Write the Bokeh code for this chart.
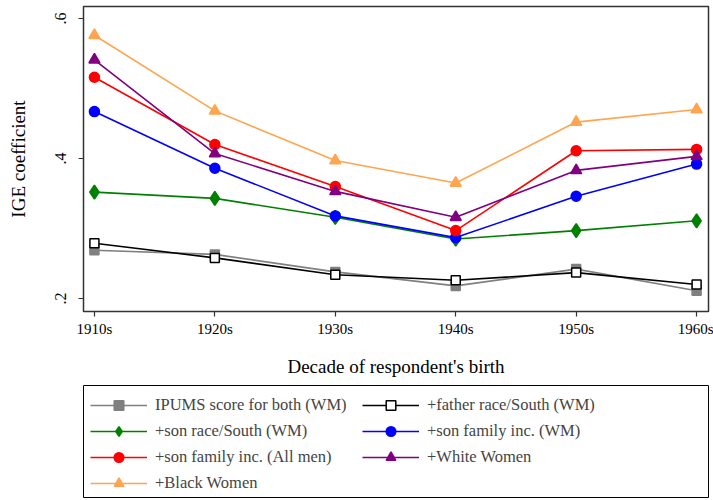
from bokeh.plotting import figure
from bokeh.models import Range1d, FixedTicker, Legend, LegendItem
from bokeh.layouts import column
from bokeh.embed import file_html
from bokeh.resources import INLINE

decades = ["1910s", "1920s", "1930s", "1940s", "1950s", "1960s"]
ipums = [0.269, 0.263, 0.238, 0.218, 0.242, 0.211]
father_race = [0.279, 0.258, 0.234, 0.226, 0.237, 0.220]
son_race = [0.352, 0.343, 0.316, 0.285, 0.297, 0.311]
son_inc_wm = [0.467, 0.386, 0.318, 0.287, 0.346, 0.392]
son_inc_all = [0.516, 0.420, 0.360, 0.297, 0.411, 0.413]
white_women = [0.541, 0.407, 0.353, 0.316, 0.383, 0.403]
black_women = [0.576, 0.468, 0.397, 0.365, 0.452, 0.470]
y_ticks = [0.2, 0.4, 0.6]
y_tick_labels = [".2", ".4", ".6"]

labels = ["IPUMS score for both (WM)", "+father race/South (WM)",
          "+son race/South (WM)", "+son family inc. (WM)",
          "+son family inc. (All men)", "+White Women", "+Black Women"]
values = [ipums, father_race, son_race, son_inc_wm, son_inc_all, white_women, black_women]
styles = [
    dict(color="#808080", marker="square", size=9, fill="#808080"),
    dict(color="#000000", marker="square", size=9, fill="#ffffff"),
    dict(color="#008000", marker="diamond", size=14, fill="#008000"),
    dict(color="#0000ff", marker="circle", size=10, fill="#0000ff"),
    dict(color="#ff0000", marker="circle", size=10, fill="#ff0000"),
    dict(color="#800080", marker="triangle", size=11, fill="#800080"),
    dict(color="#ffa54f", marker="triangle", size=11, fill="#ffa54f"),
]

FONT = "Liberation Serif"
xs = list(range(len(decades)))

p = figure(width=713, height=380, x_range=Range1d(-0.0906, 5.0988),
           y_range=Range1d(0.18143, 0.6171), output_backend="svg",
           toolbar_location=None, min_border_left=78, min_border_right=5,
           min_border_top=6, min_border_bottom=69)
p.xgrid.visible = False
p.ygrid.visible = False
p.outline_line_color = "#333333"
p.outline_line_width = 1.5

for vals, st in zip(values, styles):
    p.line(xs, vals, line_color=st["color"], line_width=1.6)
    p.scatter(xs, vals, marker=st["marker"], size=st["size"],
              line_color=st["color"], fill_color=st["fill"], line_width=1.5)

p.xaxis.ticker = FixedTicker(ticks=xs)
p.xaxis.major_label_overrides = {i: d for i, d in zip(xs, decades)}
p.yaxis.ticker = FixedTicker(ticks=y_ticks)
p.yaxis.major_label_overrides = {t: l for t, l in zip(y_ticks, y_tick_labels)}
p.yaxis.major_label_orientation = "vertical"
for ax in (p.xaxis[0], p.yaxis[0]):
    ax.axis_line_color = None
    ax.major_tick_out = 5
    ax.major_tick_in = 0
    ax.minor_tick_line_color = None
    ax.major_tick_line_color = "#333333"
    ax.major_tick_line_width = 1.2
    ax.major_label_text_font = FONT
    ax.major_label_text_color = "#000000"
    ax.axis_label_text_font = FONT
    ax.axis_label_text_font_size = "19px"
    ax.axis_label_text_font_style = "normal"
    ax.axis_label_text_color = "#000000"
p.xaxis.major_label_text_font_size = "15px"
p.yaxis.major_label_text_font_size = "16px"
p.xaxis.axis_label = "Decade of respondent's birth"
p.yaxis.axis_label = "IGE coefficient"
p.xaxis.major_label_standoff = 4
p.xaxis.axis_label_standoff = 16
p.yaxis.major_label_standoff = 12
p.yaxis.axis_label_standoff = 24

# legend panel (its frame outline is the legend box)
p2 = figure(width=713, height=120, x_range=Range1d(100, 101), y_range=Range1d(100, 101),
            output_backend="svg", toolbar_location=None, x_axis_type=None,
            y_axis_type=None, min_border_left=83, min_border_right=5,
            min_border_top=5, min_border_bottom=3)
p2.xgrid.visible = False
p2.ygrid.visible = False
p2.outline_line_color = "#000000"
p2.outline_line_width = 1

items = []
for lab, vals, st in zip(labels, values, styles):
    rl = p2.line(xs, vals, line_color=st["color"], line_width=1.6)
    rs = p2.scatter(xs, vals, marker=st["marker"], size=st["size"],
                    line_color=st["color"], fill_color=st["fill"], line_width=1.5)
    items.append(LegendItem(label=lab, renderers=[rl, rs]))

def make_legend(its, loc):
    return Legend(items=its, location=loc, padding=0, margin=0, spacing=2,
                  glyph_width=57, glyph_height=24, label_height=20, label_standoff=8,
                  label_text_font=FONT, label_text_font_size="16.5px",
                  border_line_color=None, background_fill_alpha=0)

legA = make_legend([items[0], items[2], items[4], items[6]], (7, 2))
legB = make_legend([items[1], items[3], items[5]], (279, 28))
p2.add_layout(legA)
p2.add_layout(legB)

layout = column(p, p2, spacing=0)
open("out.html", "w").write(file_html(layout, INLINE))
